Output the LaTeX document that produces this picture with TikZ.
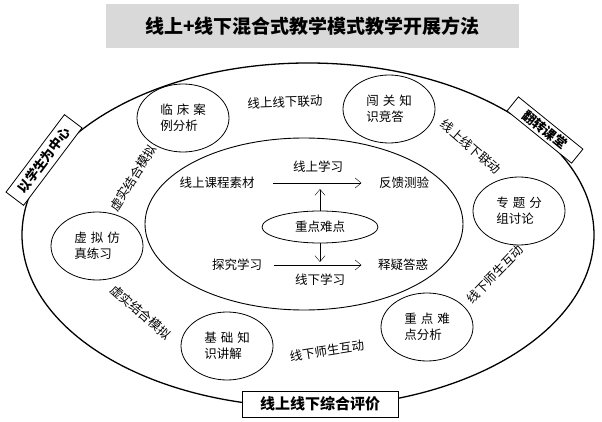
\documentclass[tikz,border=0pt]{standalone}
\usepackage{fontspec}
\setmainfont{Noto Sans CJK SC}
\usetikzlibrary{shapes.geometric}
\usetikzlibrary{arrows.meta}

\newcommand{\cgap}{\hspace{4pt}}

\begin{document}
\begin{tikzpicture}[x=1pt,y=-1pt,
  >={Straight Barb[length=6pt,width=10pt]},
  every node/.style={font=\fontsize{12.5}{16}\selectfont},
  topic/.style={draw,ellipse,line width=0.8pt,minimum width=92pt,minimum height=68pt,inner sep=0pt,align=left},
  tag/.style={draw,fill=white,line width=0.8pt,inner sep=2pt,font=\fontsize{13}{15}\selectfont\bfseries}]
\useasboundingbox (0,0) rectangle (602,422);

\node[fill=black!15,minimum width=413pt,minimum height=44pt,font=\fontsize{19}{22}\selectfont\bfseries]
  (title) at (312.5,26) {线上+线下混合式教学模式教学开展方法};

\draw[line width=1.3pt] (308,235) ellipse [x radius=286,y radius=172];
\draw[line width=0.9pt] (304,224) ellipse [x radius=159,y radius=86];

% six topics round the ring
\node[topic] (case) at (183,118) {临\cgap 床\cgap 案\\例分析};
\node[topic] (quiz) at (389,109) {闯\cgap 关\cgap 知\\识竞答};
\node[topic] (group) at (519,211) {专\cgap 题\cgap 分\\组讨论};
\node[topic] (focus) at (427,327) {重\cgap 点\cgap 难\\点分析};
\node[topic] (basic) at (227,346) {基\cgap 础\cgap 知\\识讲解};
\node[topic] (sim) at (97,246) {虚\cgap 拟\cgap 仿\\真练习};

% inner flow
\node (src) at (217,183) {线上课程素材};
\node (test) at (404,183) {反馈测验};
\node (online) at (318,167) {线上学习};
\node[draw,ellipse,line width=0.8pt,minimum width=116pt,minimum height=32pt] (key) at (320,227) {重点难点};
\node (explore) at (237,265) {探究学习};
\node (answer) at (403,265) {释疑答惑};
\node (offline) at (320,280) {线下学习};
\coordinate (keyup) at (320,189);
\coordinate (keydown) at (320,262);

\draw[->,shorten <=15pt,shorten >=14pt] (src) -- (test);
\draw[->,shorten <=8pt,shorten >=13pt] (explore) -- (answer);
\draw[->] (key) -- (keyup);
\draw[->] (key) -- (keydown);

% ring labels
\node[rotate=2] (linktop) at (285,102) {线上线下联动};
\node[rotate=-41] (linkright) at (471,147) {线上线下联动};
\node[rotate=58] (mixup) at (133,178) {虚实结合模拟};
\node[rotate=-41] (mixlow) at (141,312) {虚实结合模拟};
\node[rotate=9] (talkbottom) at (327,351) {线下师生互动};
\node[rotate=46] (talkright) at (495,274) {线下师生互动};

% boxes on the outer ring
\node[tag,rotate=53,minimum width=97pt,minimum height=22pt] (center) at (44,160) {以学生为中心};
\node[tag,rotate=-39,minimum width=83pt,minimum height=18pt] (flip) at (545,130) {翻转课堂};
\node[tag,minimum width=156pt,minimum height=26pt,font=\fontsize{15}{17}\selectfont\bfseries] (eval) at (320,404) {线上线下综合评价};
\end{tikzpicture}
\end{document}
